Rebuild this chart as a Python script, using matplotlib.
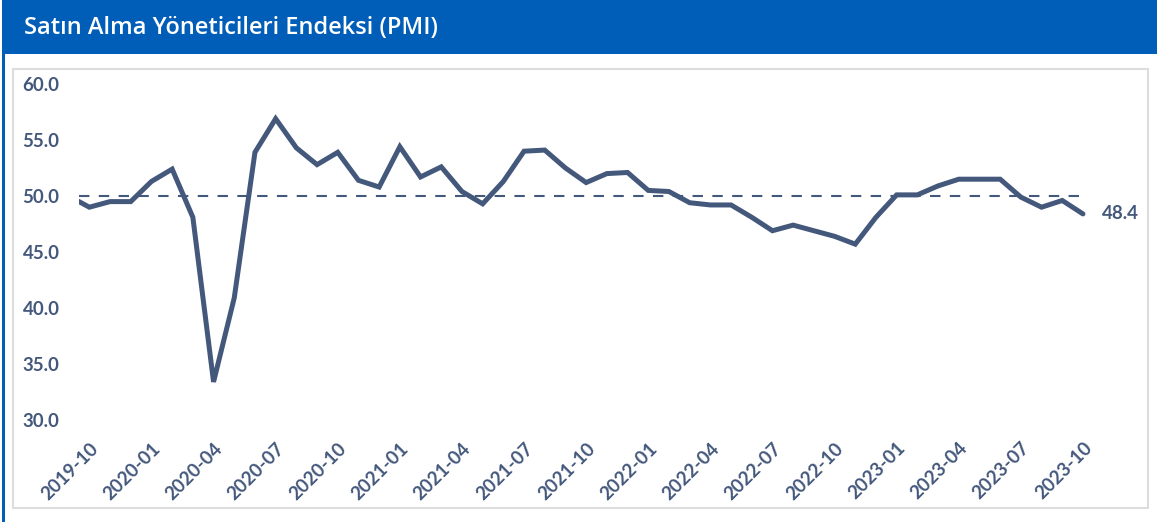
import matplotlib.pyplot as plt
import matplotlib.patches as patches

# PMI data, monthly (2019-09 only used for the clipped line start)
months = ["2019-09", "2019-10", "2019-11", "2019-12",
          "2020-01", "2020-02", "2020-03", "2020-04", "2020-05", "2020-06",
          "2020-07", "2020-08", "2020-09", "2020-10", "2020-11", "2020-12",
          "2021-01", "2021-02", "2021-03", "2021-04", "2021-05", "2021-06",
          "2021-07", "2021-08", "2021-09", "2021-10", "2021-11", "2021-12",
          "2022-01", "2022-02", "2022-03", "2022-04", "2022-05", "2022-06",
          "2022-07", "2022-08", "2022-09", "2022-10", "2022-11", "2022-12",
          "2023-01", "2023-02", "2023-03", "2023-04", "2023-05", "2023-06",
          "2023-07", "2023-08", "2023-09", "2023-10"]
pmi = [50.0, 49.0, 49.5, 49.5,
       51.3, 52.4, 48.1, 33.4, 40.9, 53.9,
       56.9, 54.3, 52.8, 53.9, 51.4, 50.8,
       54.4, 51.7, 52.6, 50.4, 49.3, 51.3,
       54.0, 54.1, 52.5, 51.2, 52.0, 52.1,
       50.5, 50.4, 49.4, 49.2, 49.2, 48.1,
       46.9, 47.4, 46.9, 46.4, 45.7, 48.1,
       50.1, 50.1, 50.9, 51.5, 51.5, 51.5,
       49.9, 49.0, 49.6, 48.4]
threshold = 50.0
y_ticks = [30, 35, 40, 45, 50, 55, 60]

W, H = 1157, 522
line_color = "#44587c"
blue = "#005db8"

fig = plt.figure(figsize=(W / 100, H / 100), dpi=100)


def px_rect(x0, y0, x1, y1, **kw):
    # rectangle in pixel coords (origin top-left)
    r = patches.Rectangle((x0 / W, 1 - y1 / H), (x1 - x0) / W, (y1 - y0) / H,
                          transform=fig.transFigure, **kw)
    fig.patches.append(r)


# header bar + left border + light frame
px_rect(3, 0, W, 54, facecolor=blue, edgecolor="none")
px_rect(2, 0, 5, H, facecolor=blue, edgecolor="none")
px_rect(13, 69, 1148, 508, facecolor="none", edgecolor="#dddddd", linewidth=1.5)
fig.text(24 / W, 1 - 28 / H, "Satın Alma Yöneticileri Endeksi (PMI)",
         color="white", fontsize=17, family="Open Sans", fontweight="semibold",
         va="center", ha="left")

# axes placed so that x=0.5 sits at 79px and 30..60 spans 420..84px
left_px, right_px, top_px, bot_px = 79, 1140, 84, 420
ax = fig.add_axes([left_px / W, 1 - bot_px / H,
                   (right_px - left_px) / W, (bot_px - top_px) / H])
step = 20.7
ax.set_xlim(0.5, 0.5 + (right_px - left_px) / step)
ax.set_ylim(30, 60)

x = list(range(len(pmi)))
ax.plot(x, pmi, color=line_color, linewidth=3.6, solid_joinstyle="miter",
        solid_capstyle="round")
ax.plot([0.5, x[-1]], [threshold, threshold], color=line_color, linewidth=1.5,
        dashes=(5, 4.5))
ax.annotate(f"{pmi[-1]:.1f}", (x[-1], pmi[-1]), xytext=(14, 0),
            textcoords="offset points", va="center", ha="left",
            color=line_color, fontsize=13.5, fontweight="bold", family="Lato")

ax.set_yticks(y_ticks)
ax.set_yticklabels([f"{v:.1f}" for v in y_ticks])
xt = list(range(1, len(months), 3))
ax.set_xticks(xt)
ax.set_xticklabels([months[i] for i in xt], rotation=45, ha="right",
                   va="top", rotation_mode="anchor")
ax.tick_params(length=0, labelcolor=line_color, labelsize=13.5)
ax.tick_params(axis="y", pad=14)
ax.tick_params(axis="x", pad=14)
for lbl in ax.get_xticklabels() + ax.get_yticklabels():
    lbl.set_fontweight("bold")
    lbl.set_family("Lato")
for s in ax.spines.values():
    s.set_visible(False)
ax.patch.set_alpha(0)

fig.savefig("out.png", dpi=100)
